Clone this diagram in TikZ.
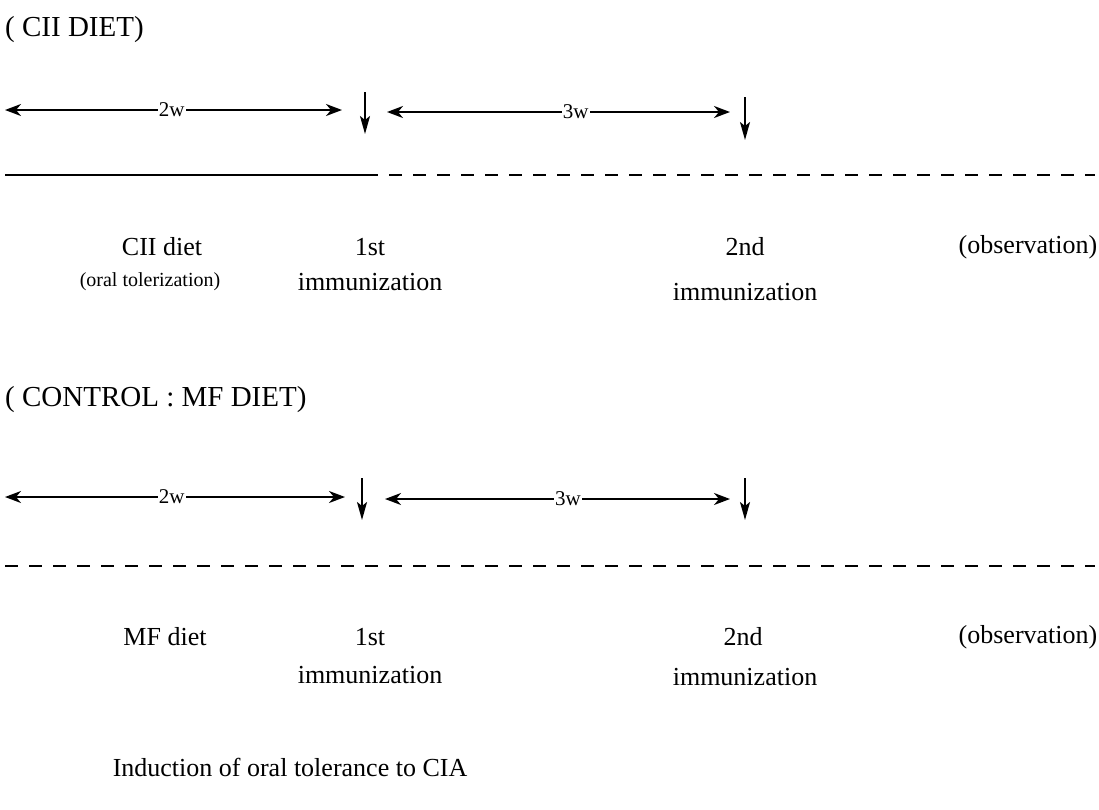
\documentclass[tikz,border=0pt]{standalone}
\usepackage{fontspec}
\setmainfont{Liberation Serif}
\usetikzlibrary{arrows.meta}
\begin{document}
\begin{tikzpicture}[x=1pt,y=-1pt,
  titletxt/.style={font=\fontsize{29}{34}\selectfont, inner sep=0pt},
  txt/.style={font=\fontsize{26}{30}\selectfont, inner sep=0pt},
  smalltxt/.style={font=\fontsize{20}{24}\selectfont, inner sep=0pt},
  seglabel/.style={font=\fontsize{21}{25}\selectfont, fill=white, inner sep=1.2pt},
  span/.style={line width=2pt, {Stealth[length=16pt,width=12pt,inset=5pt]}-{Stealth[length=16pt,width=12pt,inset=5pt]}},
  downmark/.style={line width=2pt, -{Stealth[length=18pt,width=10pt,inset=4pt]}},
  solidline/.style={line width=1.6pt},
  dashline/.style={line width=1.6pt, dash pattern=on 13pt off 11pt}
]
\useasboundingbox (0,0) rectangle (1099,809);

% ---------- CII diet ----------
\node[titletxt, anchor=west] (t1) at (5,30) {( CII DIET)};

\coordinate (a1s) at (5,110);
\coordinate (a1e) at (342,110);
\draw[span] (a1s) -- (a1e) node[seglabel, pos=0.495] (w1) {2w};
\coordinate (d1s) at (365,92);
\coordinate (d1e) at (365,134);
\draw[downmark] (d1s) -- (d1e);
\coordinate (b1s) at (387,112);
\coordinate (b1e) at (730,112);
\draw[span] (b1s) -- (b1e) node[seglabel, pos=0.55] (w2) {3w};
\coordinate (e1s) at (745,97);
\coordinate (e1e) at (745,140);
\draw[downmark] (e1s) -- (e1e);

\coordinate (l1a) at (5,175);
\coordinate (l1b) at (365,175);
\coordinate (l1c) at (1095,175);
\draw[solidline] (l1a) -- (l1b);
\draw[dashline] (l1b) -- (l1c);

\node[txt] (cii) at (162,247) {CII diet};
\node[smalltxt] (oral) at (150,282) {(oral tolerization)};
\node[txt] (f1) at (370,247) {1st};
\node[txt] (f1b) at (370,282) {immunization};
\node[txt] (s1) at (745,247) {2nd};
\node[txt] (s1b) at (745,292) {immunization};
\node[txt] (o1) at (1028,247) {(observation)};

% ---------- control ----------
\node[titletxt, anchor=west] (t2) at (5,400) {( CONTROL : MF DIET)};

\coordinate (a2s) at (5,497);
\coordinate (a2e) at (345,497);
\draw[span] (a2s) -- (a2e) node[seglabel, pos=0.49] (w3) {2w};
\coordinate (d2s) at (362,478);
\coordinate (d2e) at (362,520);
\draw[downmark] (d2s) -- (d2e);
\coordinate (b2s) at (385,499);
\coordinate (b2e) at (730,499);
\draw[span] (b2s) -- (b2e) node[seglabel, pos=0.53] (w4) {3w};
\coordinate (e2s) at (745,478);
\coordinate (e2e) at (745,520);
\draw[downmark] (e2s) -- (e2e);

\coordinate (l2a) at (5,566);
\coordinate (l2c) at (1095,566);
\draw[dashline] (l2a) -- (l2c);

\node[txt] (mf) at (165,637) {MF diet};
\node[txt] (f2) at (370,637) {1st};
\node[txt] (f2b) at (370,675) {immunization};
\node[txt] (s2) at (743,637) {2nd};
\node[txt] (s2b) at (745,677) {immunization};
\node[txt] (o2) at (1028,637) {(observation)};

\node[txt] (cap) at (290,767) {Induction of oral tolerance to CIA};
\end{tikzpicture}
\end{document}
